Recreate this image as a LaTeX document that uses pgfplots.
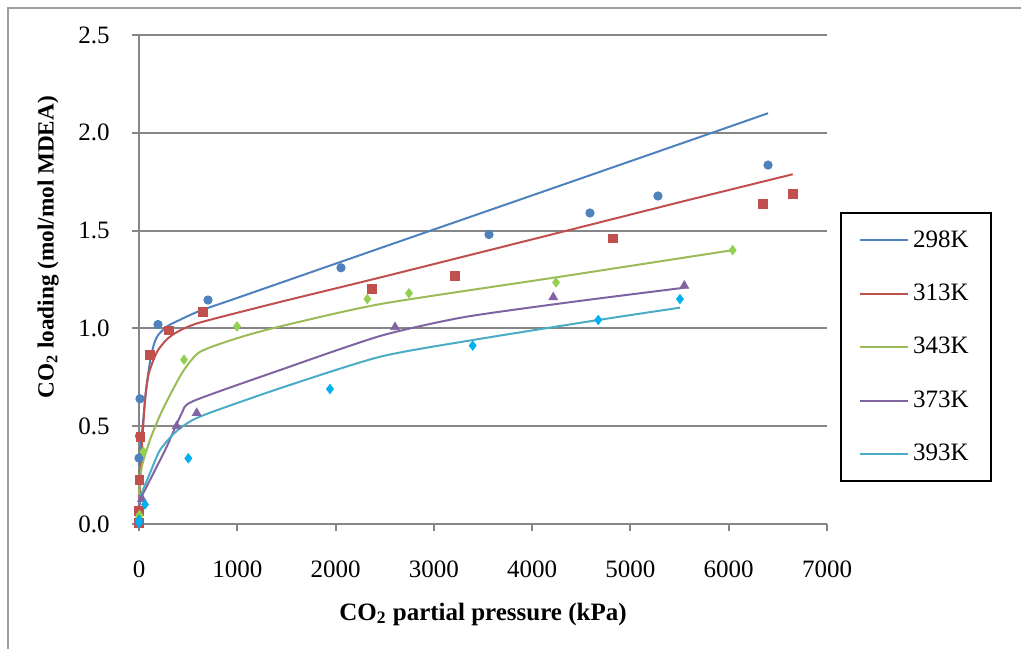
\documentclass[border=0pt]{standalone}
\usepackage{fontspec}
\setmainfont{Liberation Serif}
\usepackage{pgfplots}
\pgfplotsset{compat=1.18}
\definecolor{c298}{HTML}{4F81BD}
\definecolor{c313}{HTML}{C0504D}
\definecolor{c343}{HTML}{9BBB59}
\definecolor{c343m}{HTML}{92D050}
\definecolor{c373}{HTML}{8064A2}
\definecolor{c393}{HTML}{4BACC6}
\definecolor{c393m}{HTML}{00B0F0}
\definecolor{axgray}{HTML}{868686}
\begin{document}
\begin{tikzpicture}
\useasboundingbox (0,0) rectangle (510.5pt,324.5pt);
\draw[color=axgray!80, line width=1pt] (4pt,0) -- (4pt,320.5pt) -- (510.5pt,320.5pt);
\begin{axis}[
  at={(69.5pt,62.5pt)}, anchor=south west,
  scale only axis, width=344pt, height=244.5pt,
  xmin=0, xmax=7000, ymin=0, ymax=2.5,
  clip=false,
  axis lines=left, axis line style={-, color=axgray, line width=1.1pt},
  tick align=outside, major tick length=3.5pt,
  tick style={color=axgray, line width=1pt},
  xtick={0,1000,...,7000}, ytick={0,0.5,...,2.5},
  ymajorgrids, grid style={color=axgray, line width=1pt},
  font=\fontsize{12.5}{15}\selectfont,
  /pgf/number format/assume math mode=true,
  scaled x ticks=false,
  xticklabel style={/pgf/number format/set thousands separator={}, inner sep=0pt, yshift=-14.5pt},
  yticklabel style={/pgf/number format/fixed, /pgf/number format/precision=1, /pgf/number format/fixed zerofill, inner sep=0pt, xshift=-11pt},
  xlabel={\textbf{CO\textsubscript{2} partial pressure (kPa)}},
  ylabel={\textbf{CO\textsubscript{2} loading (mol/mol MDEA)}},
  xlabel style={at={(axis description cs:0.5,-0.1963)}, anchor=base},
  ylabel style={at={(axis description cs:-0.124,0.566)}, anchor=base, rotate=0, font=\fontsize{11.6}{14}\selectfont},
  legend style={at={(axis description cs:1.019,0.638)}, anchor=north west,
    draw=black, line width=1pt, fill=white, inner xsep=9pt, inner ysep=6.8pt,
    row sep=12.9pt, font=\fontsize{12.5}{15}\selectfont,
    nodes={inner sep=2pt}},
  legend cell align=left,
  legend image code/.code={\draw[#1] (-1pt,0pt) -- (23pt,0pt);},
]
% model lines
\addplot[c298, line width=1pt, smooth, tension=0.4, mark=none] coordinates {
(0,0.30) (20,0.42) (41,0.52) (70,0.68) (112,0.83) (150,0.915) (193,0.965) (285,1.01) (400,1.04) (620,1.09) (1000,1.156) (2452,1.41) (4000,1.68) (5830,2.00) (6400,2.10)};
\addlegendentry{298K}
\addplot[c313, line width=1pt, smooth, tension=0.4, mark=none] coordinates {
(0,0.05) (15,0.25) (27,0.38) (61,0.63) (100,0.77) (183,0.88) (285,0.945) (400,0.985) (620,1.03) (1435,1.135) (2452,1.26) (4000,1.455) (5500,1.645) (6651,1.788)};
\addlegendentry{313K}
\addplot[c343, line width=1pt, smooth, tension=0.4, mark=none] coordinates {
(0,0.15) (27,0.29) (112,0.43) (200,0.54) (285,0.63) (448,0.78) (620,0.88) (1000,0.95) (1435,1.01) (2462,1.125) (4243,1.261) (6040,1.40)};
\addlegendentry{343K}
\addplot[c373, line width=1pt, smooth, tension=0.4, mark=none] coordinates {
(0,0.087) (27,0.14) (112,0.225) (282,0.395) (434,0.565) (550,0.628) (1435,0.787) (2452,0.961) (3300,1.057) (4400,1.135) (5548,1.208)};
\addlegendentry{373K}
\addplot[c393, line width=1pt, smooth, tension=0.4, mark=none] coordinates {
(0,0.107) (27,0.158) (112,0.26) (214,0.378) (383,0.475) (620,0.549) (1435,0.694) (2452,0.855) (3401,0.941) (4673,1.043) (5504,1.106)};
\addlegendentry{393K}
% experimental points
\addplot[only marks, forget plot, mark=*, mark size=2.1pt, color=c298, fill=c298] coordinates {
(0,0.337) (5,0.45) (10,0.64) (193,1.02) (702,1.145) (2055,1.31) (3561,1.48) (4588,1.59) (5280,1.677) (6400,1.835)};
\addplot[only marks, forget plot, mark=square*, mark size=2.2pt, color=c313, fill=c313] coordinates {
(0,0.005) (0,0.066) (5,0.225) (15,0.445) (112,0.864) (305,0.99) (651,1.085) (2370,1.20) (3215,1.27) (4822,1.46) (6348,1.636) (6654,1.687)};
\addplot[only marks, forget plot, mark=diamond*, mark size=2.3pt, color=c343m, fill=c343m] coordinates {
(0,0.036) (5,0.046) (44,0.37) (458,0.84) (997,1.01) (2323,1.15) (2747,1.18) (4243,1.235) (6040,1.40)};
\addplot[only marks, forget plot, mark=triangle*, mark size=2.5pt, color=c373, fill=c373] coordinates {
(0,0.02) (31,0.128) (383,0.50) (587,0.567) (2605,1.006) (4215,1.159) (5548,1.218)};
\addplot[only marks, forget plot, mark=diamond*, mark size=2.3pt, color=c393m, fill=c393m] coordinates {
(0,0.005) (0,0.02) (61,0.10) (502,0.336) (1943,0.69) (3395,0.912) (4673,1.043) (5504,1.150)};
\end{axis}
\end{tikzpicture}
\end{document}
